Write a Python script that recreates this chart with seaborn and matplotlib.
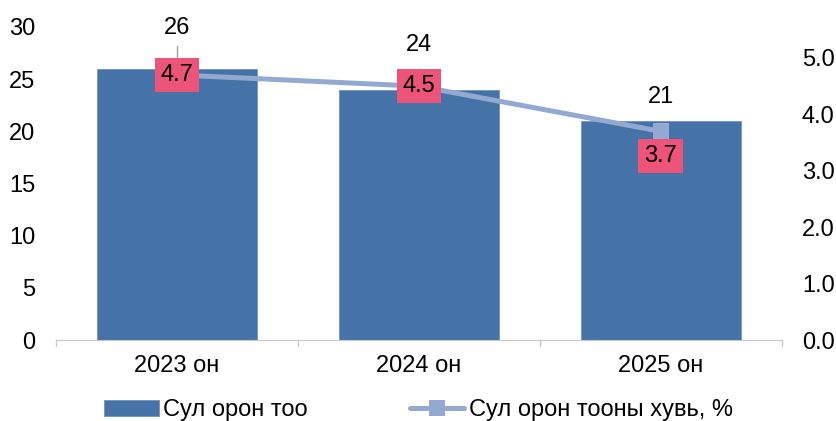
import matplotlib
matplotlib.use("Agg")
import matplotlib.pyplot as plt
import seaborn as sns
import pandas as pd

# data
years = ["2023 он", "2024 он", "2025 он"]
seats = [26, 24, 21]
share = [4.7, 4.5, 3.7]
bar_label = "Сул орон тоо"
line_label = "Сул орон тооны хувь, %"

BAR_COLOR = "#4573A7"
LINE_COLOR = "#93A9D2"
BOX_COLOR = "#EC5479"
FS = 17

sns.set_style("white")
plt.rcParams["font.family"] = ["Liberation Sans", "DejaVu Sans"]
plt.rcParams["font.size"] = FS
plt.rcParams["text.color"] = "black"
plt.rcParams["xtick.color"] = "black"
plt.rcParams["ytick.color"] = "black"

df = pd.DataFrame({"year": years, "seats": seats, "share": share})

fig = plt.figure(figsize=(8.37, 4.21), dpi=100)
ax = fig.add_axes([0.067, 0.192, 0.867, 0.744])

sns.barplot(data=df, x="year", y="seats", color=BAR_COLOR, width=0.66,
            saturation=1, edgecolor="#6f93c0", linewidth=0.6, ax=ax,
            label=bar_label)
if ax.get_legend() is not None:
    ax.get_legend().remove()
ax.set_xlim(-0.5, 2.5)
ax.set_ylim(0, 30)
ax.set_yticks(range(0, 31, 5))
ax.set_xlabel("")
ax.set_ylabel("")
for s in ["top", "right", "left"]:
    ax.spines[s].set_visible(False)
ax.spines["bottom"].set_color("#c8c8c8")
ax.tick_params(axis="y", length=0, pad=15, labelsize=FS)
ax.tick_params(axis="x", length=0, pad=11, labelsize=FS)
# category separators on x axis
for xb in [-0.5, 0.5, 1.5, 2.5]:
    ax.plot([xb, xb], [0, -0.6], color="#c8c8c8", lw=1, clip_on=False)

# bar value labels (offsets in points)
offs = [29.5, 32, 17]
for i, v in enumerate(seats):
    ax.annotate(str(v), (i, v), xytext=(0, offs[i]), textcoords="offset points",
                ha="center", va="center", fontsize=FS)
# leader line for the first label
ax.plot([0, 0], [27.0, 28.2], color="#a0a0a0", lw=1)

ax2 = ax.twinx()
ax2.set_position(ax.get_position())
sns.lineplot(data=df, x="year", y="share", color=LINE_COLOR, lw=3.6,
             marker="s", markersize=12, markeredgewidth=0, ax=ax2,
             label=line_label, legend=False)
ax2.set_ylim(0, 5.55)
ax2.set_yticks([0, 1, 2, 3, 4, 5])
ax2.set_yticklabels([f"{t:.1f}" for t in range(6)])
ax2.set_ylabel("")
for s in ["top", "right", "left", "bottom"]:
    ax2.spines[s].set_visible(False)
ax2.tick_params(axis="y", length=0, pad=14.5, labelsize=FS)

box_offs = [0, 0, -17.5]
for i, v in enumerate(share):
    ax2.annotate(f"{v:.1f}", (i, v), xytext=(0, box_offs[i]),
                 textcoords="offset points", ha="center", va="center",
                 fontsize=FS, zorder=5,
                 bbox=dict(boxstyle="square,pad=0.25", fc=BOX_COLOR, ec="none"))

h1, l1 = ax.get_legend_handles_labels()
h2, l2 = ax2.get_legend_handles_labels()
fig.legend(h1 + h2, l1 + l2, loc="center", bbox_to_anchor=(0.5, 0.026),
           ncol=2, frameon=False, fontsize=FS, handlelength=2.3,
           columnspacing=4.3, handletextpad=0.2)

fig.savefig("out.png", dpi=100)
